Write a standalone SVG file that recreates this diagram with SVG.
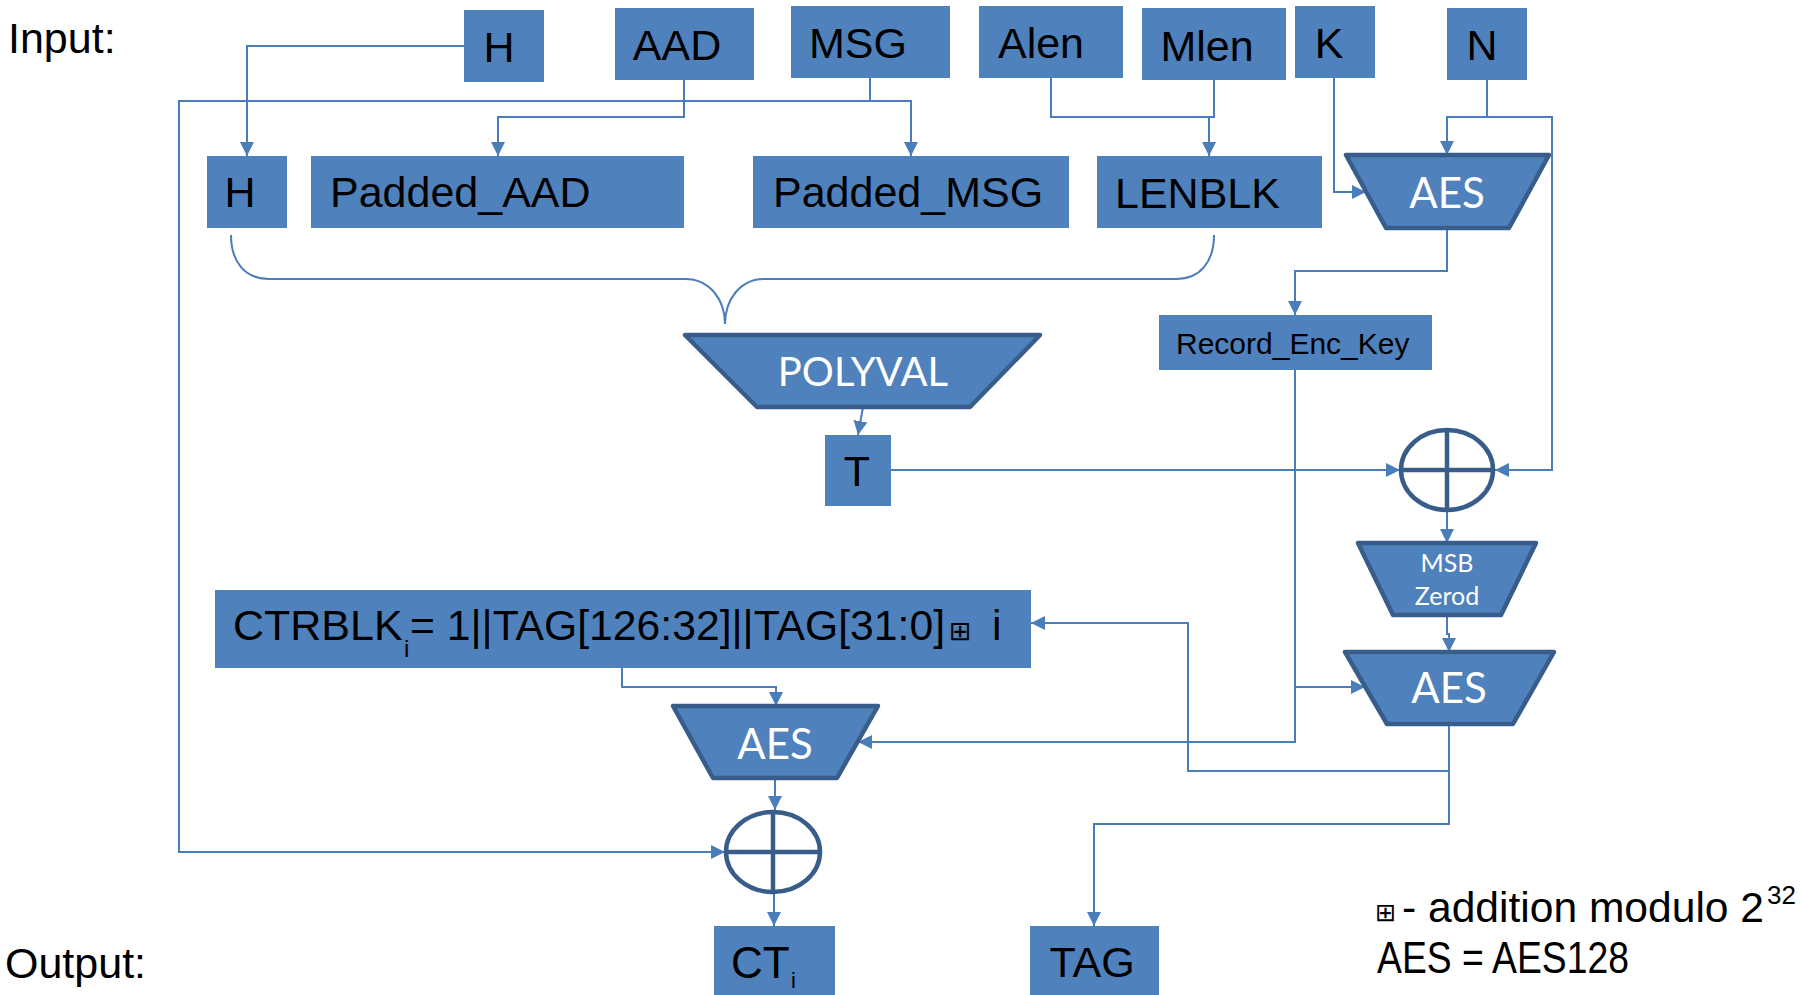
<svg xmlns="http://www.w3.org/2000/svg" width="1802" height="995" viewBox="0 0 1802 995">
<style>
.box{fill:#4F81BD}
.trap{fill:#4F81BD;stroke:#385D8A;stroke-width:4.5;stroke-linejoin:round}
.xor{fill:none;stroke:#385D8A;stroke-width:4.5}
.lbl{font-family:"Liberation Sans",Arial,"DejaVu Sans",sans-serif;font-size:43px;fill:#000}
.wl{font-family:Lato,"Open Sans",sans-serif;fill:#fff}
.sym{font-family:"DejaVu Sans",sans-serif;fill:#000}
.conn path{fill:none;stroke:#4A7EBB;stroke-width:2}
.conn path.a{marker-end:url(#arr)}
</style>
<defs>
<marker id="arr" markerUnits="userSpaceOnUse" markerWidth="14" markerHeight="14" refX="14" refY="7" orient="auto">
<path d="M0,0 L14,7 L0,14 z" fill="#4A7EBB"/>
</marker>
</defs>
<rect width="1802" height="995" fill="#fff"/>

<g id="connectors" class="conn">
<path class="a" d="M464 46 H247 V156"/>
<path class="a" d="M684 80 V117 H498 V156"/>
<path d="M870 78 V101"/>
<path class="a" d="M870 101 H911 V156"/>
<path class="a" d="M870 101 H179 V852 H725"/>
<path class="a" d="M1051 78 V117 H1209 V156"/>
<path d="M1214 80 V117 H1209"/>
<path class="a" d="M1334 78 V192 H1366"/>
<path class="a" d="M1487 80 V117 H1447 V155"/>
<path class="a" d="M1487 117 H1552 V470 H1495"/>
<path d="M231 235 C231 262 245 279 269 279 L685 279 C710 279 725 300 725 324 C725 300 740 279 764 279 L1176 279 C1200 279 1214 262 1214 235"/>
<path class="a" d="M863 407 L858 435"/>
<path class="a" d="M891 470 H1400"/>
<path class="a" d="M1447 228 V271 H1295 V315"/>
<path class="a" d="M1295 370 V742 H858"/>
<path class="a" d="M1295 687 H1365"/>
<path class="a" d="M1447 512 V543"/>
<path class="a" d="M1447 615 V634 H1449 V652"/>
<path class="a" d="M1449 724 V771 H1188 V623 H1031"/>
<path class="a" d="M1449 771 V824 H1094 V926"/>
<path class="a" d="M622 668 V687 H776 V706"/>
<path class="a" d="M775 778 V810"/>
<path class="a" d="M774 893 V926"/>
</g>

<g id="label-input"><text class="lbl" x="8" y="53">Input:</text></g>
<g id="label-output"><text class="lbl" x="5" y="978">Output:</text></g>

<g id="in-H"><rect class="box" x="464" y="10" width="80" height="72"/><text class="lbl" x="499" y="62" text-anchor="middle">H</text></g>
<g id="in-AAD"><rect class="box" x="615" y="8" width="139" height="72"/><text class="lbl" x="677" y="60" text-anchor="middle">AAD</text></g>
<g id="in-MSG"><rect class="box" x="791" y="6" width="159" height="72"/><text class="lbl" x="858" y="58" text-anchor="middle">MSG</text></g>
<g id="in-Alen"><rect class="box" x="979" y="6" width="144" height="72"/><text class="lbl" x="1041" y="58" text-anchor="middle">Alen</text></g>
<g id="in-Mlen"><rect class="box" x="1142" y="8" width="144" height="72"/><text class="lbl" x="1207" y="61" text-anchor="middle">Mlen</text></g>
<g id="in-K"><rect class="box" x="1295" y="6" width="80" height="72"/><text class="lbl" x="1329" y="58" text-anchor="middle">K</text></g>
<g id="in-N"><rect class="box" x="1447" y="8" width="80" height="72"/><text class="lbl" x="1482" y="60" text-anchor="middle">N</text></g>

<g id="H"><rect class="box" x="207" y="156" width="80" height="72"/><text class="lbl" x="240" y="207" text-anchor="middle">H</text></g>
<g id="Padded_AAD"><rect class="box" x="311" y="156" width="373" height="72"/><text class="lbl" x="330" y="207">Padded_AAD</text></g>
<g id="Padded_MSG"><rect class="box" x="753" y="156" width="316" height="72"/><text class="lbl" x="773" y="207">Padded_MSG</text></g>
<g id="LENBLK"><rect class="box" x="1097" y="156" width="225" height="72"/><text class="lbl" x="1115" y="208">LENBLK</text></g>

<g id="AES-key"><path class="trap" d="M1346 155 L1549 155 L1509 228 L1386 228 Z"/><text class="wl" x="1447" y="208" font-size="42" text-anchor="middle">AES</text></g>

<g id="POLYVAL"><path class="trap" d="M685 335 L1040 335 L970 407 L757 407 Z"/><text class="wl" x="863" y="386" font-size="40" text-anchor="middle">POLYVAL</text></g>

<g id="Record_Enc_Key"><rect class="box" x="1159" y="315" width="273" height="55"/><text class="lbl" x="1176" y="354" style="font-size:30px">Record_Enc_Key</text></g>

<g id="T"><rect class="box" x="825" y="435" width="66" height="71"/><text class="lbl" x="857" y="486" text-anchor="middle">T</text></g>

<g id="XOR-tag"><ellipse class="xor" cx="1447" cy="470" rx="46" ry="40"/><path class="xor" d="M1447 430 V510 M1401 470 H1493"/></g>

<g id="MSB-Zerod"><path class="trap" d="M1358 543 L1536 543 L1501 615 L1393 615 Z"/><text class="wl" x="1447" y="572" font-size="25" text-anchor="middle">MSB</text><text class="wl" x="1447" y="605" font-size="25" text-anchor="middle">Zerod</text></g>

<g id="AES-tag"><path class="trap" d="M1345 652 L1554 652 L1513 724 L1387 724 Z"/><text class="wl" x="1449" y="703" font-size="42" text-anchor="middle">AES</text></g>

<g id="CTRBLK"><rect class="box" x="215" y="590" width="816" height="78"/>
<text class="lbl" x="233" y="640">CTRBLK<tspan x="404" y="657" style="font-size:24px">i</tspan><tspan x="410" y="640" textLength="535" lengthAdjust="spacingAndGlyphs">= 1||TAG[126:32]||TAG[31:0]</tspan><tspan class="sym" x="949" y="640" style="font-size:27px">⊞</tspan><tspan x="992" y="640">i</tspan></text></g>

<g id="AES-ctr"><path class="trap" d="M673 706 L878 706 L837 778 L713 778 Z"/><text class="wl" x="775" y="759" font-size="42" text-anchor="middle">AES</text></g>

<g id="XOR-ct"><ellipse class="xor" cx="773" cy="852" rx="47" ry="40"/><path class="xor" d="M773 812 V892 M726 852 H820"/></g>

<g id="CT"><rect class="box" x="714" y="926" width="121" height="75"/><text class="lbl" x="731" y="978" style="font-size:44px">CT<tspan x="791" y="988" style="font-size:22px">i</tspan></text></g>
<g id="TAG"><rect class="box" x="1030" y="926" width="129" height="75"/><text class="lbl" x="1092" y="977" text-anchor="middle">TAG</text></g>

<g id="legend">
<text class="sym" x="1375" y="921" style="font-size:25px">⊞</text>
<text class="lbl" x="1402" y="922" style="font-size:43px"><tspan textLength="362" lengthAdjust="spacingAndGlyphs">- addition modulo 2</tspan><tspan x="1767" y="904" style="font-size:26px">32</tspan></text>
<text class="lbl" x="1377" y="973" style="font-size:44px" textLength="252" lengthAdjust="spacingAndGlyphs">AES = AES128</text>
</g>
</svg>
